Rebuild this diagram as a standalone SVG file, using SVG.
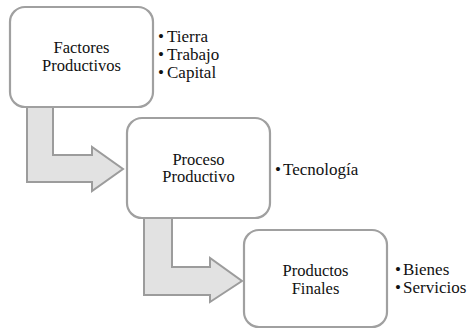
<svg xmlns="http://www.w3.org/2000/svg" width="472" height="329" viewBox="0 0 472 329">
<style>
.box{fill:#ffffff;stroke:#a0a0a0;stroke-width:2.2}
.arr{fill:#e2e2e2;stroke:#9c9c9c;stroke-width:2;stroke-linejoin:miter}
.c{text-anchor:middle}
</style>
<rect width="472" height="329" fill="#ffffff"/>
<g id="connectors">
<polygon class="arr" points="27,100 53,100 53,155 92,155 92,147 123,169 92,191 92,182 27,182"/>
<polygon class="arr" points="144,212 172,212 172,267 210,267 210,258 242,281 210,302 210,295 144,295"/>
</g>
<g font-family="Liberation Serif, Times New Roman, Tinos, Times, serif" font-size="17" fill="#111">
<g id="factores">
<rect class="box" x="10" y="7" width="143" height="100" rx="15"/>
<text class="c" x="81.5" y="53" font-size="16.5">Factores</text>
<text class="c" x="81.5" y="70.5" font-size="16.5">Productivos</text>
</g>
<g id="factores-list">
<text x="158" y="42">•</text><text x="167" y="42">Tierra</text>
<text x="158" y="60">•</text><text x="167" y="60">Trabajo</text>
<text x="158" y="78">•</text><text x="167" y="78">Capital</text>
</g>
<g id="proceso">
<rect class="box" x="127" y="118" width="143" height="100" rx="15"/>
<text class="c" x="198.5" y="164.5" font-size="16.5">Proceso</text>
<text class="c" x="198.5" y="182" font-size="16.5">Productivo</text>
</g>
<g id="proceso-list">
<text x="275" y="175">•</text><text x="283" y="175">Tecnología</text>
</g>
<g id="productos">
<rect class="box" x="244" y="230" width="143" height="97" rx="15"/>
<text class="c" x="315.5" y="276" font-size="16.5">Productos</text>
<text class="c" x="315.5" y="293.5" font-size="16.5">Finales</text>
</g>
<g id="productos-list">
<text x="395" y="275">•</text><text x="403" y="275">Bienes</text>
<text x="395" y="292.5">•</text><text x="403" y="292.5">Servicios</text>
</g>
</g>
</svg>
